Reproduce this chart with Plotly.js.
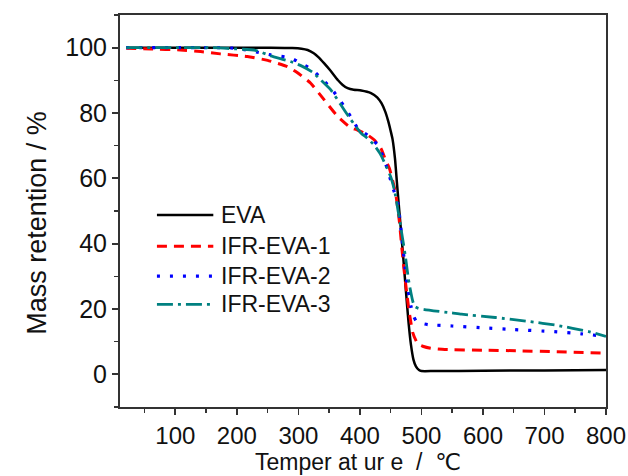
<!DOCTYPE html>
<html>
<head>
<meta charset="utf-8">
<script src="https://cdn.plot.ly/plotly-3.0.1.min.js"></script>
<style>html,body{margin:0;padding:0;background:#fff;}#chart{width:628px;height:476px;}</style>
</head>
<body>
<div id="chart"></div>
<script>
// Temperature (°C) and mass retention (%)
const evaT = [20, 100, 200, 255, 290, 305, 315, 325, 332, 342, 352, 364, 372, 380, 390, 402, 418, 428, 435, 441, 446, 450, 453, 457, 460, 464, 467, 471, 475, 479, 483, 487, 491, 496, 500, 520, 600, 700, 800];
const evaM = [100, 100, 100, 100, 99.9, 99.7, 99.3, 98.3, 97.2, 95.2, 93, 90.1, 88.6, 87.6, 87.1, 86.9, 86.1, 84.8, 83, 80.5, 77.5, 74.5, 72, 66, 59, 50, 43.5, 34.5, 25, 16, 9, 4.5, 2.4, 1.3, 1.0, 1.0, 1.1, 1.2, 1.3];

const ifr1T = [20, 60, 108, 141, 173, 217, 250, 282, 298, 320, 342, 364, 385, 396, 413, 423, 434, 442, 448, 453, 458, 464, 470, 476, 481, 486, 492, 497, 502, 515, 538, 600, 657, 720, 800];
const ifr1M = [99.8, 99.6, 99.3, 98.8, 98.1, 97.3, 96.1, 94.2, 92.4, 89.1, 84, 78.9, 75.5, 74.8, 73.2, 71.8, 69.2, 65.5, 63, 59.5, 55.5, 47, 35, 25, 18, 12.7, 10, 9, 8.6, 8, 7.6, 7.4, 7.2, 6.9, 6.5];

const ifr2T = [20, 100, 160, 200, 244, 255, 288, 304, 323, 337, 353, 369, 385, 396, 413, 429, 437, 445, 453, 462, 467, 472, 478, 483, 488, 492, 500, 511, 550, 603, 650, 712, 760, 800];
const ifr2M = [100, 100, 100, 99.8, 98.2, 97.8, 96.8, 95.2, 93.2, 90.6, 87.6, 83.5, 78.9, 75.5, 73.1, 70.2, 67, 62.6, 57.5, 52, 44, 35, 26, 20.8, 17.5, 16.2, 15.6, 15.2, 14.8, 14.2, 13.7, 13.1, 12.4, 11.6];

const ifr3T = [20, 100, 160, 200, 230, 255, 288, 304, 323, 337, 353, 369, 385, 402, 412, 423, 433, 443, 450, 456, 464, 469, 474, 479, 483, 486, 489, 495, 505, 549, 565, 620, 674, 720, 772, 800];
const ifr3M = [100, 100, 100, 99.6, 99.2, 97.5, 95.7, 94.5, 92.5, 90, 87, 82.5, 78, 73.8, 72.3, 70.2, 67.5, 63.6, 60.5, 56.5, 47.8, 42, 36, 29, 24.9, 22.3, 20.8, 20.2, 19.8, 18.8, 18.4, 17.4, 16.2, 15, 13.1, 11.6];

const seriesNames = ["EVA", "IFR-EVA-1", "IFR-EVA-2", "IFR-EVA-3"];
const xTitle = "Temper at ur e  /  \u2103";
const yTitle = "Mass retention / %";

const styles = [
  {color: "#000000", dash: "solid", width: 2.5},
  {color: "#ff0000", dash: "10px,7px", width: 3},
  {color: "#0000ff", dash: "3px,10px", width: 3.2},
  {color: "#008080", dash: "16px,5px,3px,5px", width: 2.8}
];
const xs = [evaT, ifr1T, ifr2T, ifr3T];
const ys = [evaM, ifr1M, ifr2M, ifr3M];

const traces = xs.map((x, i) => ({
  x: x, y: ys[i], name: seriesNames[i], type: "scatter", mode: "lines",
  line: {color: styles[i].color, dash: styles[i].dash, width: styles[i].width, shape: "spline", smoothing: 0.5},
  showlegend: false
}));

// manual legend (paper coordinates)
const legY = [0.490, 0.410, 0.334, 0.262];
const shapes = [];
const annotations = [];
seriesNames.forEach((n, i) => {
  shapes.push({type: "line", xref: "paper", yref: "paper", x0: 0.076, x1: 0.192, y0: legY[i], y1: legY[i],
    line: {color: styles[i].color, dash: styles[i].dash, width: styles[i].width}});
  annotations.push({xref: "paper", yref: "paper", x: 0.203, y: legY[i], xanchor: "left", yanchor: "middle",
    text: n, showarrow: false, font: {family: "Liberation Sans, Arial, sans-serif", size: 23, color: "#111"}});
});

// axis titles
annotations.push({xref: "paper", yref: "paper", x: 0.49, y: 0, yshift: -55, xanchor: "center", yanchor: "middle",
  text: xTitle, showarrow: false, font: {family: "Liberation Sans, DejaVu Sans, sans-serif", size: 23, color: "#111"}});
annotations.push({xref: "paper", yref: "paper", x: 0, xshift: -83, y: 0.47, xanchor: "center", yanchor: "middle",
  textangle: -90, text: yTitle, showarrow: false, font: {family: "Liberation Sans, Arial, sans-serif", size: 27, color: "#111"}});

const axisCommon = {
  showgrid: false, zeroline: false, showline: true, mirror: true,
  linecolor: "#333", linewidth: 2, ticks: "outside", ticklen: 6, tickwidth: 1.8, tickcolor: "#333",
  tickfont: {family: "Liberation Sans, Arial, sans-serif", size: 25, color: "#111"}
};

const layout = {
  width: 628, height: 476,
  paper_bgcolor: "#fff", plot_bgcolor: "#fff",
  margin: {l: 120, r: 22, t: 15, b: 69},
  xaxis: Object.assign({}, axisCommon, {
    range: [10, 800], tick0: 0, dtick: 100,
    tickfont: {family: "Liberation Sans, Arial, sans-serif", size: 24, color: "#111"},
    minor: {dtick: 50, ticks: "outside", ticklen: 4, tickwidth: 1.5, tickcolor: "#333"}
  }),
  yaxis: Object.assign({}, axisCommon, {
    range: [-10, 110], tick0: 0, dtick: 20,
    minor: {dtick: 10, ticks: "outside", ticklen: 4, tickwidth: 1.5, tickcolor: "#333"}
  }),
  shapes: shapes,
  annotations: annotations
};

Plotly.newPlot("chart", traces, layout, {displayModeBar: false, staticPlot: true});
</script>
</body>
</html>
